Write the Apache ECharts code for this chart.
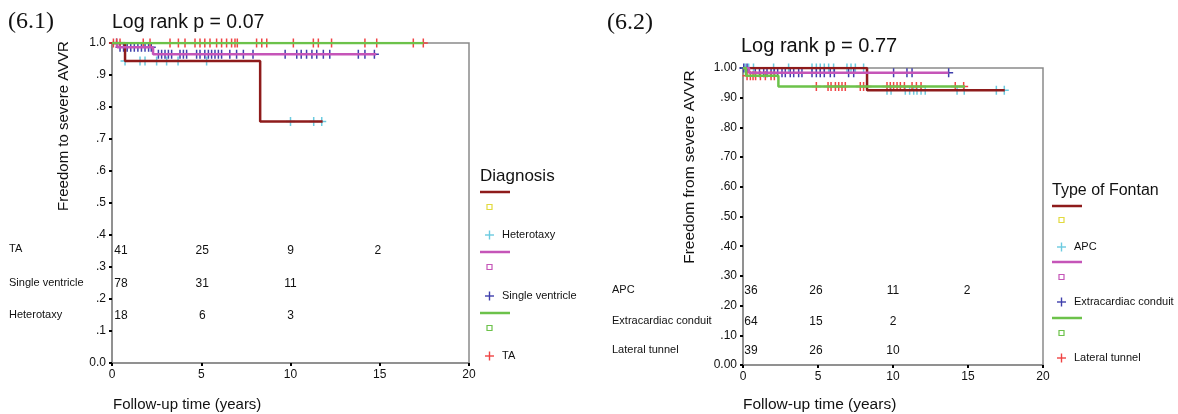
<!DOCTYPE html>
<html>
<head>
<meta charset="utf-8">
<title>AVVR</title>
<script src="https://cdn.jsdelivr.net/npm/echarts@6/dist/echarts.min.js"></script>
<style>
  html, body { margin: 0; padding: 0; background: #fff; }
  #chart { width: 1178px; height: 414px; }
</style>
</head>
<body>
<div id="chart"></div>
<script>
// ---- data ----
// (6.1) diagnosis
const hetSteps = [[0, 1], [0.73, 0.944], [8.3, 0.755], [11.8, 0.755]]
const hetCensor = [0.73, 1.57, 1.85, 2.5, 3.06, 3.7, 5.3, 10.0, 11.3, 11.75]
const svSteps = [[0, 1], [0.3, 0.987], [2.3, 0.965], [14.8, 0.965]]
const svCensor = [0.26, 0.45, 0.65, 0.85, 1.05, 1.25, 1.45, 1.65, 1.85, 2.05, 2.2,
  2.6, 2.78, 2.97, 3.16, 3.34, 3.81, 4.0, 4.18, 4.74, 4.93, 5.2, 5.4, 5.58, 5.77,
  5.96, 6.14, 6.6, 6.98, 7.36, 7.9, 9.7, 10.35, 10.6, 10.9, 11.2, 11.47, 11.84,
  12.2, 13.8, 14.17, 14.7]
const taSteps = [[0, 1], [17.45, 1]]
const taCensor = [0.08, 0.26, 0.45, 1.75, 2.13, 3.25, 3.72, 4.09, 4.65, 4.93, 5.2,
  5.49, 5.86, 6.14, 6.42, 6.7, 6.89, 7.02, 8.1, 8.39, 8.67, 10.16, 11.28, 11.56,
  12.3, 14.17, 14.83, 16.88, 17.44]
const riskTimes = [0, 5, 10, 15]
const riskTA = [41, 25, 9, 2]
const riskSV = [78, 31, 11]
const riskHet = [18, 6, 3]

// (6.2) type of Fontan
const apcSteps = [[0, 1], [8.27, 0.925], [17.45, 0.925]]
const apcCensor = [0.15, 0.38, 0.7, 2.04, 3.04, 4.6, 4.89, 5.15, 5.42, 5.71, 6.04,
  6.93, 7.2, 7.49, 8.04, 9.6, 9.87, 10.82, 11.11, 11.38, 11.6, 11.87, 12.15,
  14.27, 14.75, 16.89, 17.42]
const ecSteps = [[0, 1], [0.4, 0.984], [13.7, 0.984]]
const ecCensor = [0.05, 0.27, 0.82, 1.1, 1.38, 1.6, 1.87, 2.09, 2.31, 2.6, 2.82,
  3.15, 3.38, 3.71, 3.93, 4.6, 4.89, 5.15, 5.42, 5.82, 6.09, 7.04, 7.38, 8.27,
  10.04, 10.93, 11.27, 13.71]
const ltSteps = [[0, 1], [0.2, 0.974], [2.36, 0.938], [14.8, 0.938]]
const ltCensor = [0.27, 0.49, 0.67, 0.84, 1.16, 1.49, 1.87, 2.09, 4.89, 5.67,
  5.87, 6.16, 6.38, 6.6, 6.82, 7.82, 8.04, 8.27, 9.6, 9.82, 10.04, 10.27, 10.49,
  10.76, 11.27, 11.56, 11.87, 14.15, 14.71]
const riskAPC = [36, 26, 11, 2]
const riskEC = [64, 15, 2]
const riskLT = [39, 26, 10]

// ---- styling ----
const C = {
  darkred: '#8e1b1b', magenta: '#c555b8', green: '#6cc24a',
  cyan: '#6ccbe0', blue: '#3f3fac', red: '#f04444', yellow: '#e2da3e',
  axis: '#8a8a8a', text: '#111'
}
const FONT = '"Liberation Sans", Arial, sans-serif'
const SERIF = '"Liberation Serif", "Times New Roman", serif'
const PLUS = 'path://M5,0L5,10M0,5L10,5'

// value of the KM step function at time t
function levelAt(steps, t) {
  let v = steps[0][1]
  for (const [x, y] of steps) { if (x <= t) v = y }
  return v
}

function kmLine(steps, color, idx) {
  return {
    type: 'line', xAxisIndex: idx, yAxisIndex: idx, step: 'end',
    data: steps, showSymbol: false, silent: true,
    lineStyle: { color: color, width: 2.5 }
  }
}
function censors(steps, times, color, idx) {
  return {
    type: 'scatter', xAxisIndex: idx, yAxisIndex: idx, silent: true,
    symbol: PLUS, symbolSize: 9,
    itemStyle: { color: 'none', borderColor: color, borderWidth: 1.5, opacity: 1 },
    data: times.map(t => [t, levelAt(steps, t)])
  }
}
// numbers at risk, placed on the time columns
function riskRow(values, rowY, offsets, idx) {
  return {
    type: 'scatter', xAxisIndex: idx, yAxisIndex: idx, silent: true,
    symbolSize: 0, itemStyle: { color: 'transparent', opacity: 1 },
    data: values.map((v, i) => ({
      value: [riskTimes[i], rowY, v],
      label: { offset: [offsets[i], 0] }
    })),
    label: {
      show: true, position: 'top', distance: -7, formatter: p => p.value[2],
      color: C.text, fontSize: 12, fontFamily: FONT, textBorderWidth: 0, opacity: 1
    }
  }
}

function xAxisCfg(idx) {
  return {
    gridIndex: idx, type: 'value', min: 0, max: 20, interval: 5,
    axisLine: { lineStyle: { color: C.axis, width: 1.5 } },
    axisTick: { length: 3, lineStyle: { color: '#000', width: 2 } },
    axisLabel: { color: C.text, fontSize: 12, fontFamily: FONT, margin: 6 },
    splitLine: { show: false }
  }
}
function yAxisCfg(idx, fmt) {
  return {
    gridIndex: idx, type: 'value', min: 0, max: 1, interval: 0.1,
    axisLine: { show: true, lineStyle: { color: C.axis, width: 1.5 } },
    axisTick: { show: true, length: 3, lineStyle: { color: '#000', width: 2 } },
    axisLabel: { color: C.text, fontSize: 12, fontFamily: FONT, margin: 6, formatter: fmt },
    splitLine: { show: false }
  }
}

function txt(text, x, y, size, extra) {
  return Object.assign({
    type: 'text', x: x, y: y, silent: true,
    style: Object.assign({ text: text, font: size + 'px ' + FONT, fill: C.text,
      verticalAlign: 'middle', align: 'left' }, (extra && extra.style) || {})
  }, extra && extra.rotation !== undefined ? { rotation: extra.rotation } : {})
}
function legendBlock(title, titleSize, entries, x, ys) {
  const g = [txt(title, x, ys.title, titleSize)]
  entries.forEach((e, i) => {
    const y = ys.rows[i]
    g.push({ type: 'line', silent: true, shape: { x1: x, y1: y.line, x2: x + 30, y2: y.line },
      style: { stroke: e.line, lineWidth: 2.5 } })
    g.push({ type: 'rect', silent: true, shape: { x: x + 7, y: y.sq - 2.5, width: 5, height: 5 },
      style: { fill: 'none', stroke: e.sq, lineWidth: 1.2 } })
    g.push({ type: 'line', silent: true, shape: { x1: x + 9.5, y1: y.plus - 4.5, x2: x + 9.5, y2: y.plus + 4.5 },
      style: { stroke: e.plus, lineWidth: 1.4 } })
    g.push({ type: 'line', silent: true, shape: { x1: x + 5, y1: y.plus, x2: x + 14, y2: y.plus },
      style: { stroke: e.plus, lineWidth: 1.4 } })
    g.push(txt(e.name, x + 22, y.plus, 11))
  })
  return g
}

const chart = echarts.init(document.getElementById('chart'))

const option = {
  animation: false,
  backgroundColor: '#fff',
  grid: [
    { left: 112, top: 43, width: 357, height: 320, show: true, borderColor: C.axis, borderWidth: 1.5 },
    { left: 743, top: 68, width: 300, height: 297, show: true, borderColor: C.axis, borderWidth: 1.5 }
  ],
  xAxis: [xAxisCfg(0), xAxisCfg(1)],
  yAxis: [
    yAxisCfg(0, v => v === 0 ? '0.0' : v >= 0.999 ? '1.0' : '.' + Math.round(v * 10)),
    yAxisCfg(1, v => v === 0 ? '0.00' : v >= 0.999 ? '1.00' : '.' + Math.round(v * 10) + '0')
  ],
  series: [
    kmLine(hetSteps, C.darkred, 0),
    kmLine(svSteps, C.magenta, 0),
    kmLine(taSteps, C.green, 0),
    censors(hetSteps, hetCensor, C.cyan, 0),
    censors(svSteps, svCensor, C.blue, 0),
    censors(taSteps, taCensor, C.red, 0),
    riskRow(riskTA, 0.355, [9, 1, 0, -2], 0),
    riskRow(riskSV, 0.252, [9, 1, 0, -2], 0),
    riskRow(riskHet, 0.151, [9, 1, 0, -2], 0),

    kmLine(apcSteps, C.darkred, 1),
    kmLine(ecSteps, C.magenta, 1),
    kmLine(ltSteps, C.green, 1),
    censors(apcSteps, apcCensor, C.cyan, 1),
    censors(ecSteps, ecCensor, C.blue, 1),
    censors(ltSteps, ltCensor, C.red, 1),
    riskRow(riskAPC, 0.253, [8, -2, 0, -1], 1),
    riskRow(riskEC, 0.149, [8, -2, 0, -1], 1),
    riskRow(riskLT, 0.05, [8, -2, 0, -1], 1)
  ],
  graphic: [
    txt('(6.1)', 8, 22, 24, { style: { font: '24px ' + SERIF } }),
    txt('Log rank p = 0.07', 112, 23, 19.5),
    txt('(6.2)', 607, 23, 24, { style: { font: '24px ' + SERIF } }),
    txt('Log rank p = 0.77', 741, 46, 20),

    txt('Freedom to severe AVVR', 64, 126, 15, { rotation: Math.PI / 2, style: { align: 'center' } }),
    txt('Freedom from severe AVVR', 690, 167, 15.5, { rotation: Math.PI / 2, style: { align: 'center' } }),
    txt('Follow-up time (years)', 113, 405, 15),
    txt('Follow-up time (years)', 743, 405, 15.5),

    txt('TA', 9, 249, 11),
    txt('Single ventricle', 9, 283, 11),
    txt('Heterotaxy', 9, 315, 11),
    txt('APC', 612, 290, 11),
    txt('Extracardiac conduit', 612, 321, 11),
    txt('Lateral tunnel', 612, 350, 11),

    ...legendBlock('Diagnosis', 17, [
      { name: 'Heterotaxy', line: C.darkred, sq: C.yellow, plus: C.cyan },
      { name: 'Single ventricle', line: C.magenta, sq: C.magenta, plus: C.blue },
      { name: 'TA', line: C.green, sq: C.green, plus: C.red }
    ], 480, {
      title: 176,
      rows: [{ line: 192, sq: 207, plus: 235 }, { line: 252, sq: 267, plus: 296 }, { line: 313, sq: 328, plus: 356 }]
    }),
    ...legendBlock('Type of Fontan', 16, [
      { name: 'APC', line: C.darkred, sq: C.yellow, plus: C.cyan },
      { name: 'Extracardiac conduit', line: C.magenta, sq: C.magenta, plus: C.blue },
      { name: 'Lateral tunnel', line: C.green, sq: C.green, plus: C.red }
    ], 1052, {
      title: 191,
      rows: [{ line: 206, sq: 220, plus: 247 }, { line: 262, sq: 277, plus: 302 }, { line: 318, sq: 333, plus: 358 }]
    })
  ]
}

chart.setOption(option)
</script>
</body>
</html>
